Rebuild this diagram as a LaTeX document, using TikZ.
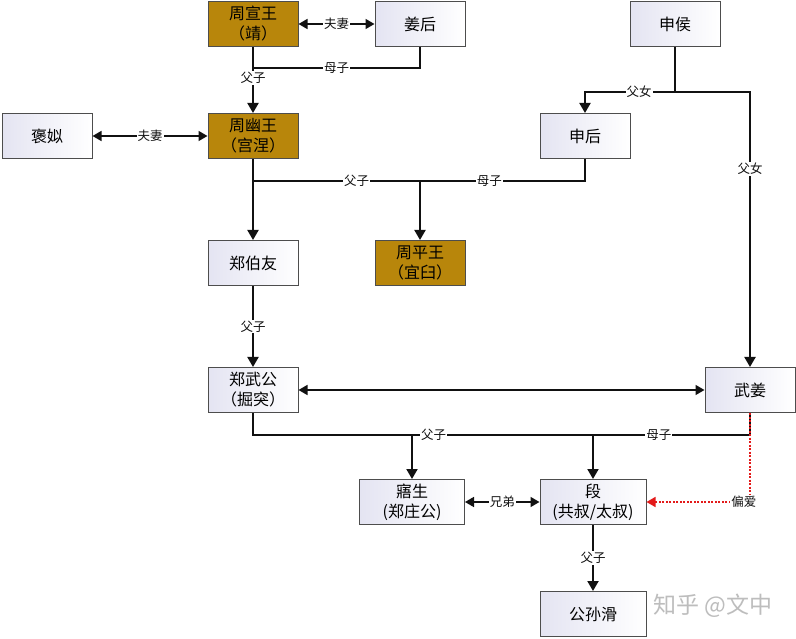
\documentclass[tikz,border=0pt]{standalone}
\usepackage{fontspec}
\setmainfont{Noto Sans CJK SC}
\usetikzlibrary{arrows.meta,positioning}
\definecolor{famGold}{HTML}{B8860B}
\definecolor{famLine}{HTML}{111111}
\definecolor{famEdge}{HTML}{4D4D4D}
\definecolor{famPale}{HTML}{E4E4F2}
\definecolor{famRed}{HTML}{E31A1A}
\tikzset{
  fam base/.style={draw=famEdge, line width=1pt, minimum width=90pt, minimum height=45pt, inner sep=0pt, align=center, font=\fontsize{16}{20}\selectfont},
  fam box/.style={fam base, left color=famPale, right color=white},
  fam king/.style={fam base, fill=famGold},
  fam arrow/.style={draw=famLine, line width=2pt, -{Triangle[length=10pt,width=11pt]}},
  fam link/.style={draw=famLine, line width=1.6pt},
  fam pair/.style={draw=famLine, line width=1.6pt, {Triangle[length=9pt,width=10pt]}-{Triangle[length=9pt,width=10pt]}},
  fam favour/.style={draw=famRed, dash pattern=on 2pt off 1.5pt, line width=1.5pt, -{Triangle[length=9pt,width=10pt]}},
  fam label/.style={font=\fontsize{12.5}{13}\selectfont, text=famLine, fill=white, inner sep=1pt},
}
\begin{document}
\begin{tikzpicture}[x=1pt,y=-1pt]
\useasboundingbox[fill=white](0,0)rectangle(796,639);
% people
\node[fam king](xuan)at(253,24){周宣王\\（靖）};\node[fam box](jiang)at(420,24){姜后};
\node[fam box](shenhou)at(675,24){申侯};
\node[fam box](baosi)at(47,136){褒姒};\node[fam king](you)at(253,136){周幽王\\（宫涅）};
\node[fam box](shenqueen)at(585,136){申后};
\node[fam box](boyou)at(253,263){郑伯友};\node[fam king](ping)at(420,263){周平王\\（宜臼）};
\node[fam box](wugong)at(253,390){郑武公\\（掘突）};\node[fam box](wujiang)at(750,390){武姜};
\node[fam box,minimum width=105pt](wusheng)at(412,502){寤生\\(郑庄公)};
\node[fam box,minimum width=106pt](duan)at(593,502){段\\(共叔/太叔)};
\node[fam box,minimum width=106pt](gongsun)at(593,614){公孙滑};
\node[font=\fontsize{23}{23}\selectfont,text=black!26](zhihu)at(713,606){知乎 @文中};
% junctions
\coordinate(mz1)at(253,68);\coordinate(sh)at(675,92);
\coordinate(fz2)at(253,181);\coordinate(mid2)at(420,181);\coordinate(mz2)at(585,181);
\coordinate(fz3)at(253,435);\coordinate(a3)at(412,435);\coordinate(b3)at(593,435);\coordinate(mz3)at(750,435);
% first generation
\draw[fam pair](xuan)--node[fam label]{夫妻}(jiang);
\draw[fam link](jiang)--(jiang|-mz1)--node[fam label]{母子}(mz1);
\draw[fam arrow](xuan)--node[fam label,pos=.47]{父子}(you);
\draw[fam link](shenhou)--(sh);
\draw[fam arrow](sh)--node[fam label,pos=.4]{父女}(sh-|shenqueen)--(shenqueen);
\draw[fam arrow](sh)-|node[fam label,pos=.64]{父女}(wujiang);
% second generation
\draw[fam pair](baosi)--node[fam label]{夫妻}(you);
\draw[fam link](you)--(fz2)--node[fam label,pos=.62]{父子}(mid2)--node[fam label,pos=.42]{母子}(mz2)--(shenqueen);
\draw[fam arrow](fz2)--(boyou);\draw[fam arrow](mid2)--(ping);
\draw[fam arrow](boyou)--node[fam label]{父子}(wugong);
% zheng
\draw[fam pair](wugong)--(wujiang);
\draw[fam link](wugong)--(fz3)--(a3)--node[fam label,pos=.12]{父子}(b3)--node[fam label,pos=.42]{母子}(mz3)--(wujiang);
\draw[fam arrow](a3)--(wusheng);\draw[fam arrow](b3)--(duan);
\draw[fam favour](wujiang.south)|-node[fam label,pos=.53]{偏爱}(duan);
\draw[fam pair](wusheng)--node[fam label]{兄弟}(duan);
\draw[fam arrow](duan)--node[fam label]{父子}(gongsun);
\end{tikzpicture}
\end{document}
